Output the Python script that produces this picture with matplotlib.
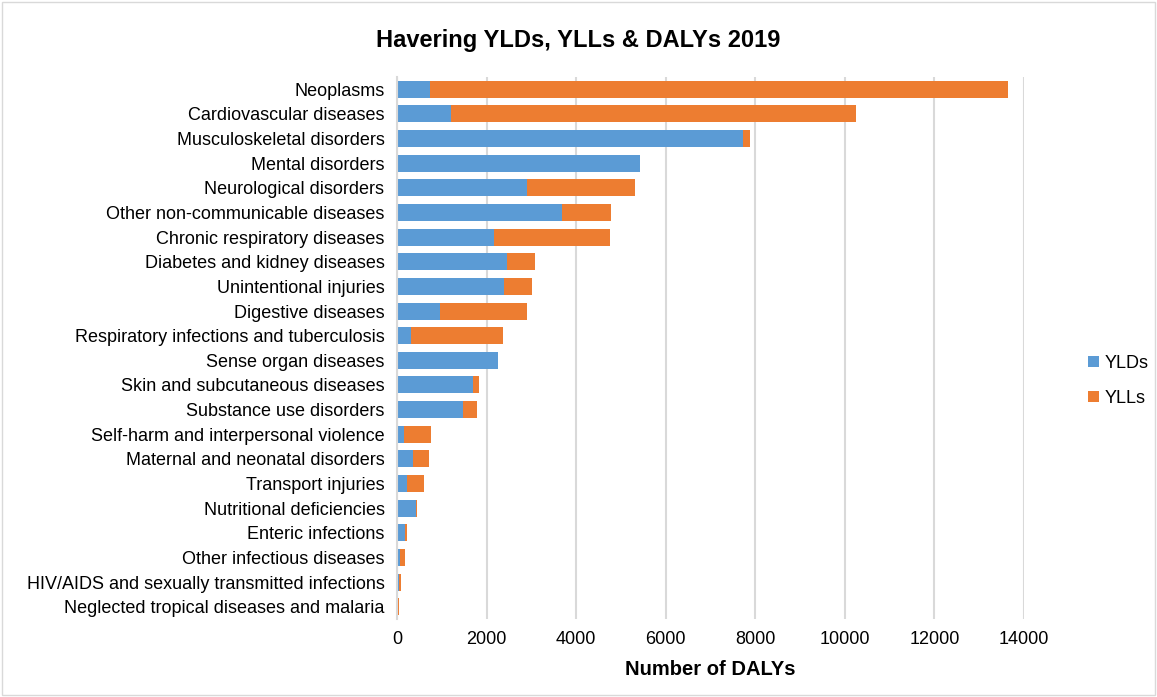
import matplotlib.pyplot as plt
from matplotlib.patches import Rectangle

# Havering burden of disease 2019
causes = ["Neoplasms", "Cardiovascular diseases", "Musculoskeletal disorders",
          "Mental disorders", "Neurological disorders",
          "Other non-communicable diseases", "Chronic respiratory diseases",
          "Diabetes and kidney diseases", "Unintentional injuries",
          "Digestive diseases", "Respiratory infections and tuberculosis",
          "Sense organ diseases", "Skin and subcutaneous diseases",
          "Substance use disorders", "Self-harm and interpersonal violence",
          "Maternal and neonatal disorders", "Transport injuries",
          "Nutritional deficiencies", "Enteric infections",
          "Other infectious diseases",
          "HIV/AIDS and sexually transmitted infections",
          "Neglected tropical diseases and malaria"]
ylds = [740, 1200, 7725, 5415, 2913, 3690, 2170, 2466, 2384, 954, 313,
        2257, 1700, 1475, 150, 350, 224, 418, 179, 67, 38, 5]
ylls = [12900, 9045, 150, 15, 2407, 1080, 2575, 619, 633, 1951, 2057,
        0, 125, 320, 610, 365, 387, 22, 37, 112, 52, 30]

plt.rcParams['font.family'] = ['Liberation Sans', 'DejaVu Sans']

fig = plt.figure(figsize=(11.57, 6.97), dpi=100)
ax = fig.add_axes([397/1157, 1 - 619/697, (1024 - 397)/1157, (619 - 77)/697])

ypos = list(range(len(causes)))
ax.barh(ypos, ylds, height=0.69, color='#5B9BD5', label='YLDs')
ax.barh(ypos, ylls, left=ylds, height=0.69, color='#ED7D31', label='YLLs')

ax.set_yticks(ypos)
ax.set_yticklabels(causes, fontsize=13)
ax.set_ylim(len(causes) - 0.5, -0.5)
ax.set_xlim(0, 14000)
ax.set_xticks(range(0, 14001, 2000))
ax.tick_params(axis='x', labelsize=13, length=0, pad=9)
ax.tick_params(axis='y', length=0, pad=9)
ax.xaxis.grid(True, color='#d9d9d9', linewidth=1.5)
ax.set_axisbelow(True)
for s in ['top', 'right', 'bottom']:
    ax.spines[s].set_visible(False)
ax.spines['left'].set_color('#d9d9d9')
ax.spines['left'].set_linewidth(1.5)

ax.set_xlabel("Number of DALYs", fontsize=14.5, fontweight='bold', labelpad=8)
fig.suptitle("Havering YLDs, YLLs & DALYs 2019", fontsize=17,
             fontweight='bold', y=1 - 40/697, va='center')

fig.legend(loc='center left', bbox_to_anchor=(1072/1157, 1 - 381/697),
           frameon=False, fontsize=13, handlelength=0.6, handleheight=0.6,
           handletextpad=0.3, labelspacing=1.0)

fig.patches.append(Rectangle((0.002, 0.003), 0.996, 0.994, transform=fig.transFigure,
                             fill=False, edgecolor='#d9d9d9', linewidth=1))

fig.savefig('out.png', dpi=100)
